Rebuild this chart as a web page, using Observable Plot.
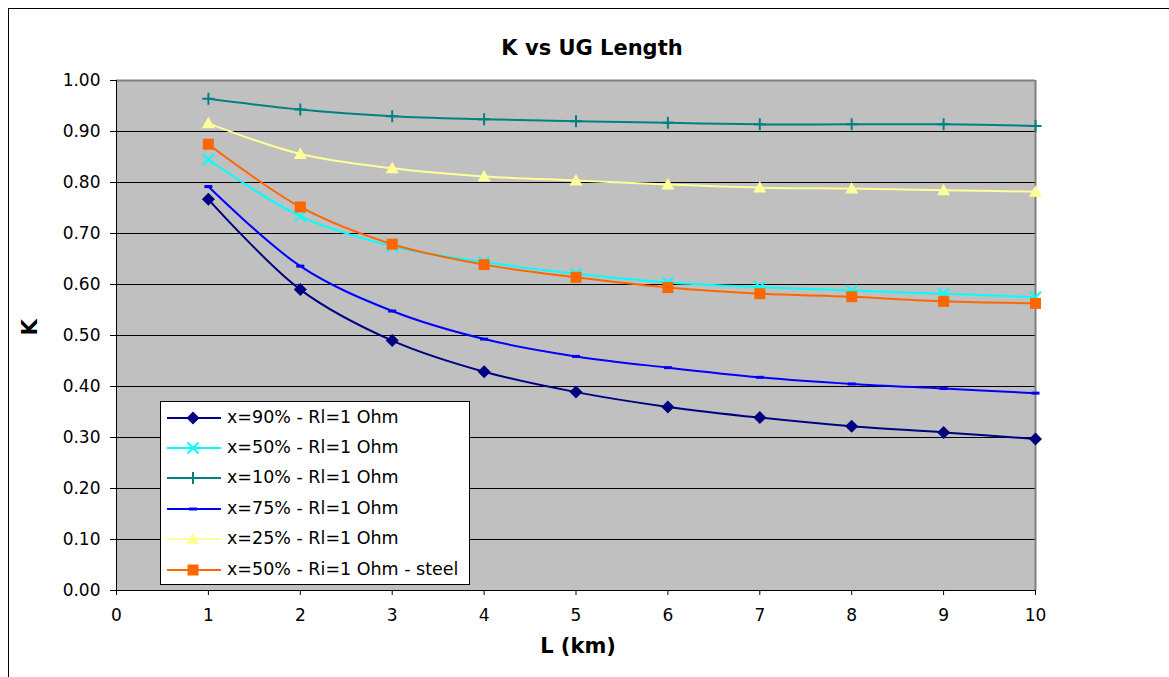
<!DOCTYPE html>
<html><head><meta charset="utf-8">
<script src="https://cdn.jsdelivr.net/npm/d3@7"></script>
<script src="https://cdn.jsdelivr.net/npm/@observablehq/plot@0.6"></script>
<style>
html,body{margin:0;padding:0;background:#fff;overflow:hidden;}
#wrap{position:relative;width:1169px;height:677px;overflow:hidden;}
#outer{position:absolute;left:8px;top:8px;width:1300px;height:800px;border:1.5px solid #000;box-sizing:border-box;pointer-events:none;}
#legend{position:absolute;left:160px;top:401px;width:310px;height:184px;border:1px solid #000;background:#fff;box-sizing:border-box;font-family:"DejaVu Sans";font-size:17.5px;color:#000;}
.row{position:absolute;left:0;height:30px;width:100%;}
.row svg{position:absolute;left:0;top:0;}
.row span{position:absolute;left:66px;top:50%;transform:translateY(-50%);white-space:nowrap;line-height:1;}
</style>
</head><body>
<div id="wrap"><div id="outer"></div><div id="legend"></div></div>
<script>
// ---- data ----
const lengthKm = [1, 2, 3, 4, 5, 6, 7, 8, 9, 10];
const seriesNames = [
  "x=90% - Rl=1 Ohm",
  "x=50% - Rl=1 Ohm",
  "x=10% - Rl=1 Ohm",
  "x=75% - Rl=1 Ohm",
  "x=25% - Rl=1 Ohm",
  "x=50% - Ri=1 Ohm - steel"
];
const k90 = [0.767, 0.590, 0.490, 0.429, 0.389, 0.360, 0.339, 0.322, 0.310, 0.297];
const k50 = [0.845, 0.734, 0.675, 0.644, 0.621, 0.604, 0.595, 0.588, 0.582, 0.575];
const k10 = [0.964, 0.943, 0.930, 0.924, 0.920, 0.917, 0.914, 0.914, 0.914, 0.911];
const k75 = [0.792, 0.636, 0.548, 0.493, 0.459, 0.437, 0.418, 0.405, 0.396, 0.387];
const k25 = [0.916, 0.856, 0.828, 0.812, 0.804, 0.796, 0.790, 0.788, 0.785, 0.782];
const k50steel = [0.875, 0.752, 0.679, 0.639, 0.614, 0.594, 0.582, 0.576, 0.567, 0.563];
const seriesValues = [k90, k50, k10, k75, k25, k50steel];
const xTicks = [0, 1, 2, 3, 4, 5, 6, 7, 8, 9, 10];
const yTicks = [0, 0.1, 0.2, 0.3, 0.4, 0.5, 0.6, 0.7, 0.8, 0.9, 1.0];
const yGrid = [0.1, 0.2, 0.3, 0.4, 0.5, 0.6, 0.7, 0.8, 0.9];
const titleText = "K vs UG Length";
const xLabel = "L (km)";
const yLabel = "K";

// ---- styles ----
const sym = {
  diamond: {draw(c){c.moveTo(0,-6.5);c.lineTo(6.5,0);c.lineTo(0,6.5);c.lineTo(-6.5,0);c.closePath();}},
  times: {draw(c){c.moveTo(-5.5,-5.5);c.lineTo(5.5,5.5);c.moveTo(5.5,-5.5);c.lineTo(-5.5,5.5);}},
  plus: {draw(c){c.moveTo(0,-6);c.lineTo(0,6);c.moveTo(-6,0);c.lineTo(6,0);}},
  dash: {draw(c){c.rect(-4,-1.5,8,3);}},
  triangle: {draw(c){c.moveTo(0,-6.5);c.lineTo(6.5,5);c.lineTo(-6.5,5);c.closePath();}},
  square: {draw(c){c.rect(-5.5,-5.5,11,11);}}
};
const styles = [
  {color:"#000080", symbol:sym.diamond, filled:true},
  {color:"#00ffff", symbol:sym.times, filled:false},
  {color:"#008080", symbol:sym.plus, filled:false},
  {color:"#0000ff", symbol:sym.dash, filled:true},
  {color:"#ffff99", symbol:sym.triangle, filled:true},
  {color:"#ff6600", symbol:sym.square, filled:true}
];

const seriesMarks = [];
seriesValues.forEach((vals, i) => {
  const data = lengthKm.map((L, j) => ({L, K: vals[j]}));
  const st = styles[i];
  seriesMarks.push(Plot.line(data, {x:"L", y:"K", stroke:st.color, strokeWidth:2, curve:"catmull-rom"}));
  seriesMarks.push(Plot.dot(data, st.filled
    ? {x:"L", y:"K", symbol:st.symbol, fill:st.color, stroke:"none"}
    : {x:"L", y:"K", symbol:st.symbol, fill:"none", stroke:st.color, strokeWidth:2}));
});

const chart = Plot.plot({
  width: 1169, height: 677,
  marginLeft: 116, marginRight: 134, marginTop: 80, marginBottom: 87,
  style: {fontFamily:"DejaVu Sans", fontSize:"17px", color:"#000", background:"transparent"},
  x: {domain:[0,10]},
  y: {domain:[0,1]},
  marks: [
    Plot.frame({fill:"#c0c0c0", stroke:"none"}),
    Plot.ruleY(yGrid, {stroke:"#000", strokeWidth:1}),
    Plot.ruleY([1], {stroke:"#808080", strokeWidth:2}),
    Plot.ruleX([10], {stroke:"#808080", strokeWidth:2}),
    Plot.ruleX([0], {stroke:"#000", strokeWidth:1}),
    Plot.ruleY([0], {stroke:"#000", strokeWidth:1}),
    Plot.axisY(yTicks, {tickSize:6, tickPadding:10, tickFormat:d3.format(".2f"), label:null, fontSize:17}),
    Plot.axisX(xTicks, {tickSize:5, tickPadding:13, label:null, fontSize:17}),
    ...seriesMarks,
    Plot.text([titleText], {text:d=>d, frameAnchor:"top", dy:-40, dx:16, fontSize:21, fontWeight:"bold"}),
    Plot.text([xLabel], {text:d=>d, frameAnchor:"bottom", dy:62, dx:2, fontSize:21, fontWeight:"bold"}),
    Plot.text([yLabel], {text:d=>d, frameAnchor:"left", dx:-86, rotate:-90, fontSize:21, fontWeight:"bold"})
  ]
});
document.getElementById("wrap").insertBefore(chart, document.getElementById("outer"));

// ---- legend ----
const legend = document.getElementById("legend");
seriesNames.forEach((name, i) => {
  const st = styles[i];
  const row = document.createElement("div");
  row.className = "row";
  row.style.top = (0.5 + i * 30.4) + "px";
  const p = d3.path(); st.symbol.draw(p);
  const ns = "http://www.w3.org/2000/svg";
  const svg = d3.create("svg").attr("width", 64).attr("height", 30);
  svg.append("line").attr("x1", 6).attr("x2", 60).attr("y1", 15).attr("y2", 15)
     .attr("stroke", st.color).attr("stroke-width", 2);
  svg.append("path").attr("transform", "translate(32,15)").attr("d", p.toString())
     .attr("fill", st.filled ? st.color : "none")
     .attr("stroke", st.filled ? "none" : st.color).attr("stroke-width", 2);
  row.appendChild(svg.node());
  const span = document.createElement("span");
  span.textContent = name;
  row.appendChild(span);
  legend.appendChild(row);
});
</script>
</body></html>
